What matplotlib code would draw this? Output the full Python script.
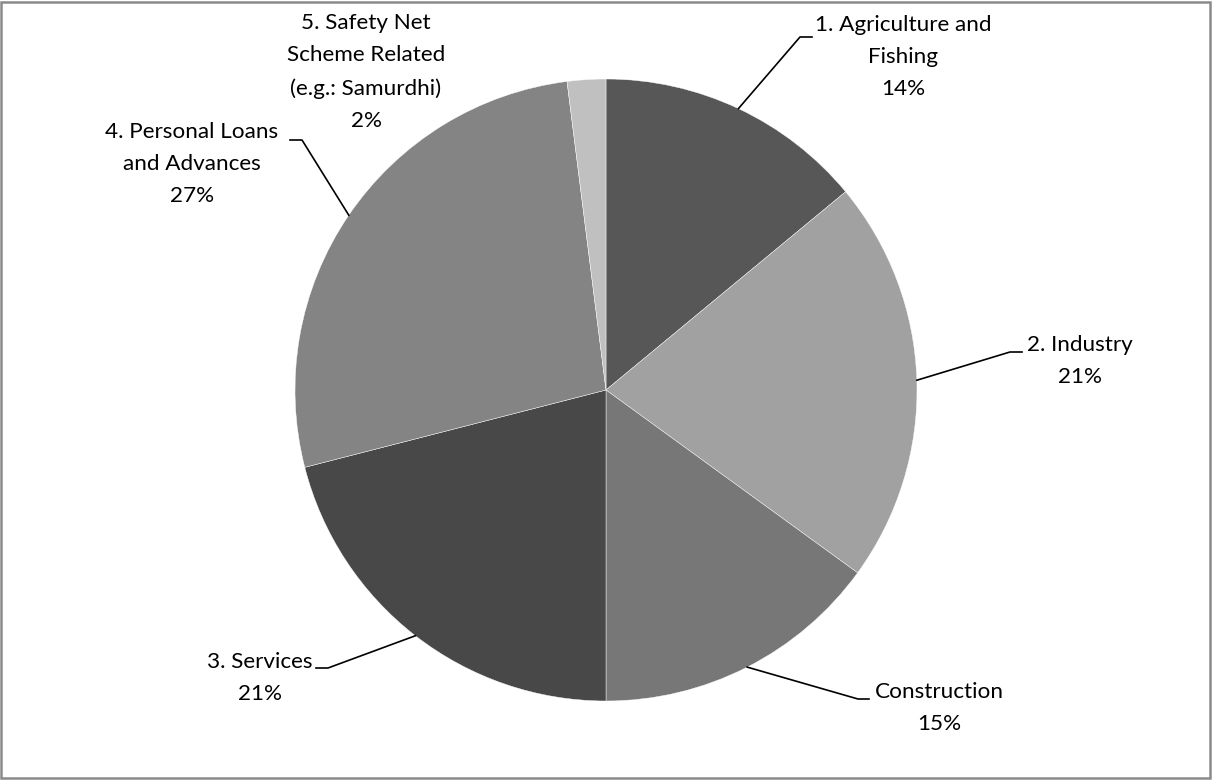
import numpy as np
import matplotlib.pyplot as plt
from matplotlib.patches import Rectangle

labels = ["1. Agriculture and\nFishing", "2. Industry", "Construction",
          "3. Services", "4. Personal Loans\nand Advances",
          "5. Safety Net\nScheme Related\n(e.g.: Samurdhi)"]
shares = [14, 21, 15, 21, 27, 2]
colors = ["#575757", "#a1a1a1", "#777777", "#484848", "#848484", "#c0c0c0"]

# label placement (pixel coords): text centre, elbow point, end of leader
label_pos = [(903, 57), (1080, 361), (939, 708), (260, 678), (192, 164), (366, 72)]
elbows = [(800, 37), (1010, 352), (858, 699), (328, 668), (302, 140), None]
ends = [(812, 37), (1022, 352), (869, 699), (316, 668), (290, 140), None]

W, H = 1212, 780
cx, cy, r = 606, 390, 311

fig = plt.figure(figsize=(W / 100, H / 100), dpi=100)
ax = fig.add_axes([0, 0, 1, 1])
# y axis runs top-down, so -90 is 12 o'clock and counterclock draws clockwise on screen
wedges, _ = ax.pie(shares, colors=colors, startangle=-90, counterclock=True,
                   center=(cx, cy), radius=r,
                   wedgeprops=dict(edgecolor="white", linewidth=0.3))
ax.set_xlim(0, W)
ax.set_ylim(H, 0)
ax.set_aspect("equal")
ax.axis("off")

font = dict(family="Lato", fontsize=16.2, color="black")
for i, w in enumerate(wedges):
    mid = np.deg2rad((w.theta1 + w.theta2) / 2)
    sx, sy = cx + r * np.cos(mid), cy + r * np.sin(mid)
    if elbows[i] is not None:
        ex, ey = elbows[i]
        tx, ty = ends[i]
        ax.plot([sx, ex, tx], [sy, ey, ty], color="black", lw=1.2)
    ax.text(label_pos[i][0], label_pos[i][1], f"{labels[i]}\n{shares[i]}%",
            ha="center", va="center", linespacing=1.75, **font)

fig.patches.append(Rectangle((0.001, 0.002), 0.997, 0.995, transform=fig.transFigure,
                             fill=False, edgecolor="#8a8a8a", linewidth=1.8))

fig.savefig("out.png", dpi=100)
